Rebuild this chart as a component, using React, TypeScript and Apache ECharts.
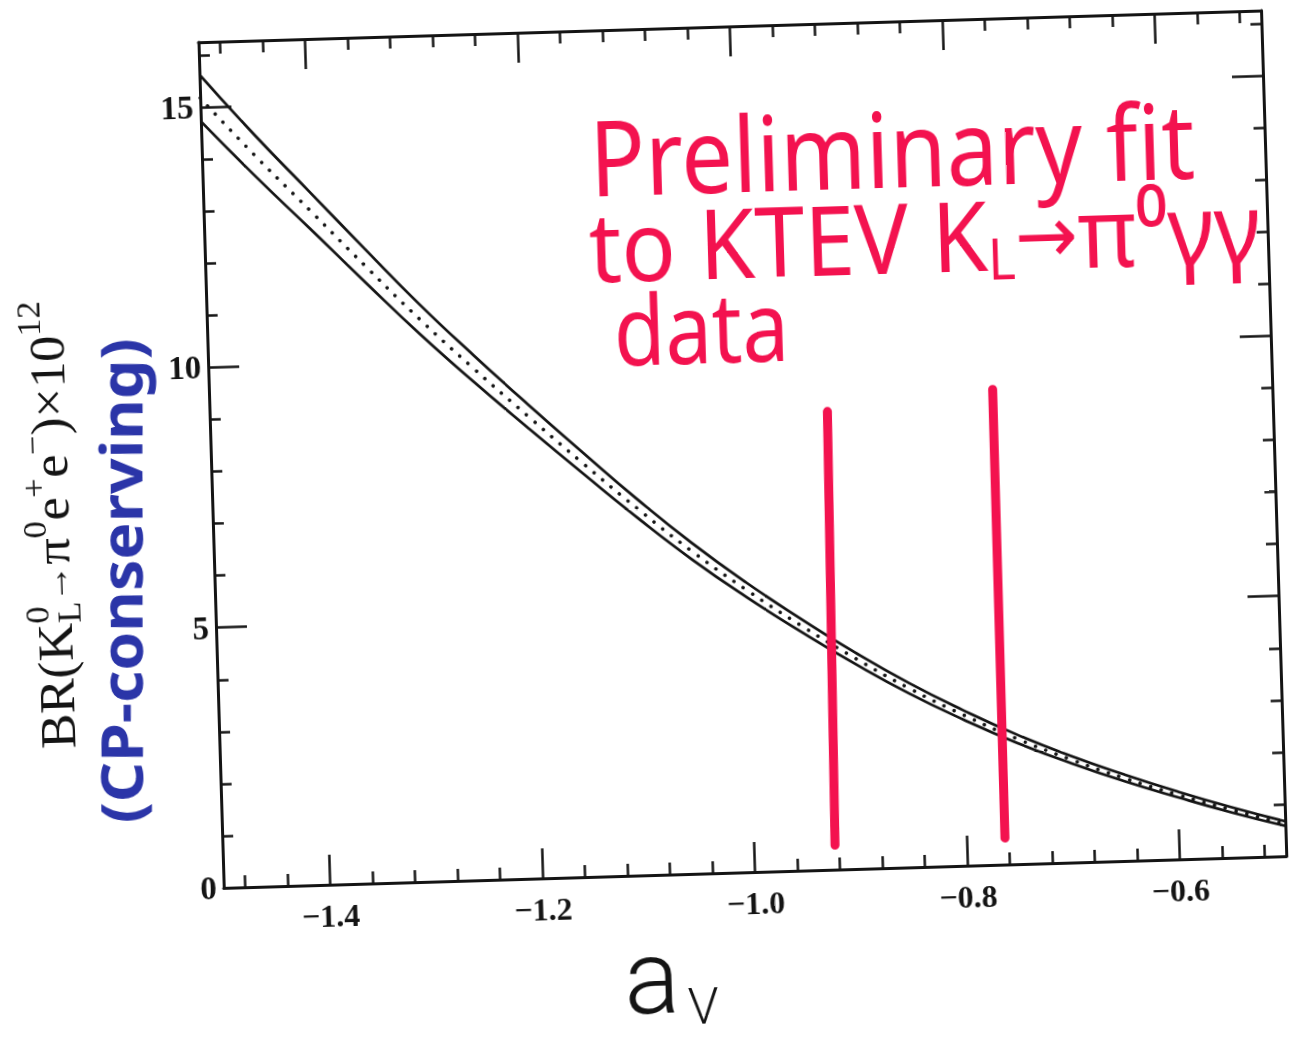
import { useEffect, useRef } from 'react';
import * as echarts from 'echarts';

// a_V sample points and the CP-conserving branching ratio band (units of 1e-12)
const aV = [-1.5, -1.45, -1.4, -1.35, -1.3, -1.25, -1.2, -1.15, -1.1, -1.05, -1.0, -0.95, -0.9, -0.85, -0.8, -0.75, -0.7, -0.65, -0.6, -0.55, -0.5];
const brUpper = [15.63, 14.44, 13.32, 12.2, 11.1, 10.08, 9.1, 8.15, 7.22, 6.35, 5.56, 4.84, 4.16, 3.54, 2.99, 2.49, 2.05, 1.66, 1.3, 0.97, 0.67];
const brCentral = [15.18, 14.04, 12.96, 11.87, 10.81, 9.82, 8.87, 7.94, 7.04, 6.19, 5.42, 4.71, 4.05, 3.44, 2.9, 2.41, 1.98, 1.59, 1.24, 0.92, 0.62];
const brLower = [14.73, 13.64, 12.6, 11.55, 10.52, 9.56, 8.64, 7.74, 6.86, 6.03, 5.28, 4.59, 3.94, 3.34, 2.81, 2.33, 1.91, 1.53, 1.19, 0.87, 0.58];

// hand-drawn markers of the a_V range from the KTeV fit
const ktevLowA = [-0.924, -0.919];
const ktevLowBR = [0.47, 8.8];
const ktevHighA = [-0.764, -0.763];
const ktevHighBR = [0.51, 9.13];

// tick positions
const xMajorTicks = [-1.4, -1.2, -1.0, -0.8, -0.6];
const xMinorTicks = [-1.48, -1.44, -1.36, -1.32, -1.28, -1.24, -1.16, -1.12, -1.08, -1.04, -0.96, -0.92, -0.88, -0.84, -0.76, -0.72, -0.68, -0.64, -0.56, -0.52];
const yMajorTicks = [0, 5, 10, 15];
const yMinorTicks = [1, 2, 3, 4, 6, 7, 8, 9, 11, 12, 13, 14, 16];

const INK = '#141414';
const RED = '#f3124f';
const BLUE = '#2b35a8';
const SERIF = '"Liberation Serif", "Times New Roman", serif';
const HAND = '"Noto Sans", "DejaVu Sans", sans-serif';
const PEN = 'Roboto, "Noto Sans", sans-serif';

function textWidth(text: string, size: number, family: string, weight = 'normal') {
  const ctx = document.createElement('canvas').getContext('2d');
  if (!ctx) return text.length * size * 0.55;
  ctx.font = `${weight} ${size}px ${family}`;
  return ctx.measureText(text).width;
}

function xAxes(position: 'bottom' | 'top', withLabels: boolean) {
  const base = {
    type: 'value',
    min: -1.5,
    max: -0.5,
    position,
    splitLine: { show: false },
  };
  return [
    {
      ...base,
      axisLine: { show: true, onZero: false, lineStyle: { color: INK, width: 3 } },
      axisTick: { show: true, inside: true, length: 30, customValues: xMajorTicks, lineStyle: { color: INK, width: 2.5 } },
      axisLabel: withLabels
        ? {
            show: true,
            customValues: xMajorTicks,
            formatter: (v: number) => v.toFixed(1).replace('-', '\u2212'),
            margin: 15,
            color: INK,
            fontFamily: SERIF,
            fontWeight: 'bold',
            fontSize: 32,
          }
        : { show: false },
    },
    {
      ...base,
      axisLine: { show: false, onZero: false },
      axisTick: { show: true, inside: true, length: 12, customValues: xMinorTicks, lineStyle: { color: INK, width: 2.5 } },
      axisLabel: { show: false },
    },
  ];
}

function yAxes(position: 'left' | 'right', withLabels: boolean) {
  const base = {
    type: 'value',
    min: 0,
    max: 16.25,
    position,
    splitLine: { show: false },
  };
  return [
    {
      ...base,
      axisLine: { show: true, onZero: false, lineStyle: { color: INK, width: 3 } },
      axisTick: { show: true, inside: true, length: 31, customValues: yMajorTicks, lineStyle: { color: INK, width: 2.5 } },
      axisLabel: withLabels
        ? {
            show: true,
            customValues: yMajorTicks,
            formatter: (v: number) => String(v),
            margin: 7,
            color: INK,
            fontFamily: SERIF,
            fontWeight: 'bold',
            fontSize: 33,
          }
        : { show: false },
    },
    {
      ...base,
      axisLine: { show: false, onZero: false },
      axisTick: { show: true, inside: true, length: 11, customValues: yMinorTicks, lineStyle: { color: INK, width: 2.5 } },
      axisLabel: { show: false },
    },
  ];
}

// y-axis title with super/subscripts, laid out piece by piece along the rotated baseline
type Piece = { t: string; size: number; rise: number; stack?: boolean };
const yTitlePieces: Piece[] = [
  { t: 'BR(K', size: 50, rise: 0 },
  { t: '0', size: 33, rise: 22 },
  { t: 'L', size: 33, rise: -10, stack: true },
  { t: '\u2192', size: 36, rise: 2 },
  { t: '\u03c0', size: 50, rise: 0 },
  { t: '0', size: 33, rise: 22 },
  { t: 'e', size: 50, rise: 0 },
  { t: '+', size: 33, rise: 22 },
  { t: 'e', size: 50, rise: 0 },
  { t: '\u2212', size: 33, rise: 22 },
  { t: ')\u00d710', size: 50, rise: 0 },
  { t: '12', size: 33, rise: 22 },
];
const Y_TITLE_LENGTH = 448;

function yTitleGroup() {
  const placed: { t: string; size: number; rise: number; x: number }[] = [];
  let cursor = 0;
  let prevStart = 0;
  let prevW = 0;
  yTitlePieces.forEach((p) => {
    const w = textWidth(p.t, p.size, SERIF);
    if (p.stack) {
      placed.push({ ...p, x: prevStart });
      cursor = prevStart + Math.max(prevW, w);
    } else {
      placed.push({ ...p, x: cursor });
      prevStart = cursor;
      prevW = w;
      cursor += w;
    }
  });
  const total = cursor;
  const stretch = Y_TITLE_LENGTH / total;
  return {
    type: 'group',
    x: 67,
    y: 507,
    rotation: Math.PI / 2,
    scaleX: stretch,
    silent: true,
    children: placed.map((p) => ({
      type: 'text',
      x: p.x - total / 2,
      y: -p.rise - 0.3 * p.size,
      style: {
        text: p.t,
        fontSize: p.size,
        fontFamily: SERIF,
        fill: INK,
        align: 'left',
        verticalAlign: 'middle',
      },
    })),
  };
}

function buildOption() {
  const line1 = 'Preliminary fit';
  const line3 = 'data';
  const s1 = 605 / textWidth(line1, 104, HAND);
  const s3 = 175 / textWidth(line3, 96, HAND);
  const w2 =
    textWidth('to KTEV K', 96, HAND) +
    textWidth('L', 56, HAND) +
    textWidth('\u2192', 80, HAND) +
    textWidth('\u03c0\u2070\u03b3\u03b3', 96, HAND);
  const s2 = 672 / w2;
  const blueText = '(CP-conserving)';
  const sb = 485 / textWidth(blueText, 58, HAND, 'bold');

  const pairs = (xs: number[], ys: number[]) => xs.map((x, i) => [x, ys[i]]);
  const curve = (vals: number[]) => aV.map((a, i) => [a, vals[i]]);

  return {
    animation: false,
    grid: { left: 213, right: 24, top: 29, bottom: 168 },
    xAxis: [...xAxes('bottom', true), ...xAxes('top', false)],
    yAxis: [...yAxes('left', true), ...yAxes('right', false)],
    series: [
      {
        type: 'line',
        data: curve(brUpper),
        symbol: 'none',
        smooth: 0.5,
        silent: true,
        lineStyle: { color: INK, width: 2.7 },
        z: 3,
      },
      {
        type: 'line',
        data: curve(brLower),
        symbol: 'none',
        smooth: 0.5,
        silent: true,
        lineStyle: { color: INK, width: 2.7 },
        z: 3,
      },
      {
        type: 'line',
        data: curve(brCentral),
        symbol: 'none',
        smooth: 0.5,
        silent: true,
        lineStyle: { color: INK, width: 3.5, type: [0.1, 11], cap: 'round' },
        z: 3,
      },
      {
        type: 'line',
        data: pairs(ktevLowA, ktevLowBR),
        symbol: 'none',
        silent: true,
        lineStyle: { color: RED, width: 9, cap: 'round' },
        z: 5,
      },
      {
        type: 'line',
        data: pairs(ktevHighA, ktevHighBR),
        symbol: 'none',
        silent: true,
        lineStyle: { color: RED, width: 9, cap: 'round' },
        z: 5,
      },
    ],
    graphic: [
      {
        type: 'text',
        x: 903,
        y: 155,
        scaleX: s1,
        silent: true,
        style: { text: line1, fontSize: 104, fontFamily: HAND, fill: RED, align: 'center', verticalAlign: 'middle' },
      },
      {
        type: 'text',
        x: 933,
        y: 244,
        scaleX: s2,
        silent: true,
        style: {
          text: 'to KTEV K{sub|L}{arrow|\u2192}\u03c0\u2070\u03b3\u03b3',
          fontSize: 96,
          lineHeight: 104,
          fontFamily: HAND,
          fill: RED,
          align: 'center',
          verticalAlign: 'middle',
          rich: {
            sub: { fontSize: 56, lineHeight: 56, verticalAlign: 'bottom', fontFamily: HAND, fill: RED },
            arrow: { fontSize: 80, lineHeight: 104, verticalAlign: 'middle', fontFamily: HAND, fill: RED },
          },
        },
      },
      {
        type: 'text',
        x: 707,
        y: 328,
        scaleX: s3,
        silent: true,
        style: { text: line3, fontSize: 96, fontFamily: HAND, fill: RED, align: 'center', verticalAlign: 'middle' },
      },
      yTitleGroup(),
      {
        type: 'text',
        x: 118.5,
        y: 565,
        rotation: Math.PI / 2 - 0.029,
        scaleX: sb,
        silent: true,
        style: { text: blueText, fontSize: 58, fontWeight: 'bold', fontFamily: HAND, fill: BLUE, align: 'center', verticalAlign: 'middle' },
      },
      {
        type: 'text',
        x: 638,
        y: 977,
        silent: true,
        style: { text: 'a', fontSize: 104, fontWeight: 300, fontFamily: PEN, fill: INK, align: 'center', verticalAlign: 'middle' },
      },
      {
        type: 'text',
        x: 689,
        y: 1008,
        silent: true,
        style: { text: 'V', fontSize: 50, fontWeight: 300, fontFamily: PEN, fill: INK, align: 'center', verticalAlign: 'middle' },
      },
    ],
  };
}

export default function App() {
  const ref = useRef<HTMLDivElement>(null);
  useEffect(() => {
    if (!ref.current) return;
    const chart = echarts.init(ref.current, undefined, { renderer: 'svg' });
    chart.setOption(buildOption() as any);
    return () => chart.dispose();
  }, []);
  return (
    <div
      ref={ref}
      style={{
        position: 'fixed',
        left: 0,
        top: 0,
        width: 1300,
        height: 1043,
        transform: 'rotate(-1.71deg)',
        transformOrigin: '650px 521.5px',
      }}
    />
  );
}
